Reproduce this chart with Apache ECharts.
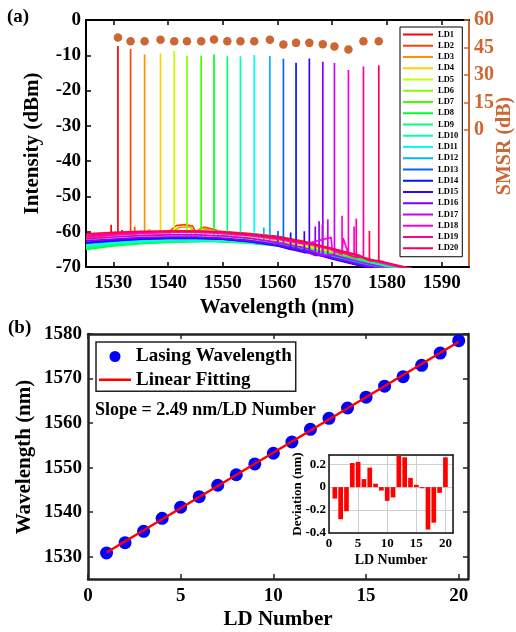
<!DOCTYPE html>
<html><head><meta charset="utf-8">
<script src="https://cdn.jsdelivr.net/npm/echarts@6/dist/echarts.min.js"></script>
<style>html,body{margin:0;padding:0;background:#fff}#c{width:516px;height:632px}</style>
</head><body><div id="c"></div>
<script>
// ---------- data ----------
const ldNames = ['LD1','LD2','LD3','LD4','LD5','LD6','LD7','LD8','LD9','LD10','LD11','LD12','LD13','LD14','LD15','LD16','LD17','LD18','LD19','LD20'];
const ldNumbers = [1,2,3,4,5,6,7,8,9,10,11,12,13,14,15,16,17,18,19,20];
const peakWl = [1530.84,1533.15,1535.71,1538.62,1541.12,1543.46,1546.05,1548.40,1550.83,1553.23,1555.75,1558.61,1561.08,1563.39,1565.82,1568.28,1570.41,1572.96,1575.71,1578.51];
const peakDbm = [-7.4,-8.2,-9.8,-9.5,-8.7,-10.1,-10.1,-9.8,-10.3,-10.3,-9.9,-10.2,-11.0,-12.1,-10.9,-11.8,-12.2,-14.2,-13.2,-12.8];
const peakBase = [-60.7,-60.7,-61.0,-61.3,-61.7,-62.2,-62.4,-62.7,-62.8,-62.8,-62.7,-63.1,-63.9,-65.0,-65.9,-66.7,-66.7,-66.4,-67.3,-68.2];
const smsrDb = [50.5,48.4,48.4,49.2,48.4,48.4,48.4,49.4,48.4,48.4,48.4,49.2,46.6,47.5,47.5,46.8,45.5,43.9,48.4,48.4];
const deviationNm = [-0.10,-0.28,-0.21,0.21,0.22,0.07,0.17,0.03,-0.03,-0.12,-0.09,0.29,0.26,0.08,0.02,-0.01,-0.37,-0.31,-0.05,0.26];
const fitLine = [[1,1530.94],[20,1578.25]];
const bgWl = [1525,1530,1535,1540,1545,1550,1555,1560,1565,1570,1575,1580,1585];
const bgDbm = [
  [-61.5,-60.8,-60.3,-60.0,-59.8,-60.0,-60.5,-61.3,-62.8,-64.8,-67.0,-69.3,-71.5],
  [-61.8,-61.0,-60.5,-60.2,-60.0,-60.2,-60.7,-61.5,-63.0,-65.0,-67.2,-69.5,-71.5],
  [-62.3,-61.5,-61.0,-60.7,-60.5,-60.7,-61.2,-62.0,-63.5,-65.5,-67.5,-69.6,-71.5],
  [-63.2,-62.2,-61.6,-61.3,-61.1,-61.3,-61.7,-62.5,-63.9,-65.7,-67.6,-69.5,-71.2],
  [-64.1,-63.0,-62.4,-62.0,-61.8,-61.9,-62.2,-62.9,-64.1,-65.8,-67.5,-69.2,-70.8],
  [-64.6,-63.5,-62.9,-62.5,-62.3,-62.4,-62.7,-63.3,-64.5,-66.0,-67.6,-69.2,-70.6],
  [-64.9,-63.8,-63.2,-62.8,-62.6,-62.7,-63.0,-63.6,-64.7,-66.2,-67.8,-69.3,-70.6],
  [-65.0,-64.0,-63.4,-63.0,-62.8,-62.9,-63.2,-63.8,-64.9,-66.4,-67.9,-69.4,-70.7],
  [-64.7,-63.8,-63.2,-62.9,-62.7,-62.9,-63.3,-64.0,-65.1,-66.7,-68.2,-69.7,-71.0],
  [-64.2,-63.4,-62.9,-62.6,-62.5,-62.7,-63.1,-63.9,-65.1,-66.8,-68.4,-70.0,-71.3],
  [-63.7,-63.0,-62.5,-62.2,-62.1,-62.3,-62.8,-63.7,-65.1,-66.9,-68.6,-70.3,-71.6],
  [-63.4,-62.7,-62.2,-61.9,-61.8,-62.1,-62.6,-63.6,-65.1,-67.0,-68.8,-70.6,-72.0],
  [-63.2,-62.5,-62.0,-61.8,-61.7,-62.0,-62.6,-63.7,-65.3,-67.3,-69.2,-71.0,-72.5],
  [-63.2,-62.6,-62.1,-61.9,-61.8,-62.1,-62.8,-63.9,-65.6,-67.6,-69.5,-71.2,-72.5],
  [-63.0,-62.4,-62.0,-61.8,-61.8,-62.1,-62.8,-64.0,-65.7,-67.7,-69.6,-71.2,-72.5],
  [-62.6,-62.1,-61.7,-61.5,-61.5,-61.8,-62.5,-63.7,-65.5,-67.4,-69.3,-71.0,-72.5],
  [-62.0,-61.5,-61.1,-60.9,-60.9,-61.2,-61.9,-63.0,-64.6,-66.5,-68.5,-70.3,-72.0],
  [-61.3,-60.8,-60.4,-60.2,-60.2,-60.5,-61.1,-62.1,-63.5,-65.3,-67.2,-69.2,-71.0],
  [-61.0,-60.5,-60.1,-59.9,-59.9,-60.2,-60.8,-61.8,-63.2,-65.0,-67.0,-69.0,-70.8],
  [-60.6,-60.2,-59.9,-59.8,-59.8,-60.1,-60.7,-61.6,-63.0,-64.8,-66.7,-68.8,-70.6]
];
const sideModes = [
  [[1529.6,-58.0],[1531.6,-59.5]], [[1533.9,-58.6]], [[1536.6,-59.2]], [[1539.3,-59.5]],
  [[1541.9,-59.0]], [[1544.2,-58.8]], [[1546.8,-59.3]], [[1549.1,-59.5]],
  [[1551.6,-60.0]], [[1554.0,-60.3]], [[1556.6,-60.4]], [[1557.5,-58.8]],
  [[1560.1,-59.8]], [[1562.4,-60.2]], [[1564.9,-59.9]], [[1566.9,-58.5],[1567.6,-57.0]],
  [[1568.2,-58.0],[1569.2,-56.5]], [[1571.8,-55.5],[1574.0,-58.5]], [[1574.4,-56.3]], [[1576.8,-59.8]]
];
const ripplePts = [
  [], [[1541.5,-58.3],[1543.0,-58.0],[1544.5,-58.4],[1546.5,-58.7],[1548.0,-59.2]],
  [[1542.0,-58.8],[1544.0,-58.6],[1546.0,-58.9]], [], [], [], [], [], [], [], [], [], [], [], [], [], [],
  [[1569.8,-61.6],[1572.0,-61.8]], [], []
];
const spectrumTicks = [1530,1540,1550,1560,1570,1580,1590];
const smsrTicks = [0,15,30,45,60];
const ldTicks = [0,5,10,15,20];
const wlTicks = [1530,1540,1550,1560,1570,1580];
const devTicks = [-0.4,-0.2,0,0.2];
const slopeText = 'Slope = 2.49 nm/LD Number';

// ---------- styles ----------
const FONT = "'Liberation Serif','Times New Roman',serif";
const ORANGE = '#cc6633';
const ldColors = ['#ff0000','#ff4400','#ff9000','#ffd200','#c8ff00','#80ff00','#3cff00','#00ff28','#00ff78','#00ffb4','#00ffff','#00b4ff','#0064ff','#0014ff','#3c00ff','#8200ff','#c800ff','#ff00dc','#ff0096','#ff0050'];
const LINE_ICON = 'path://M0,0L0.01,0L0.01,0.01Z M0,4.2L32,4.2L32,6.8L0,6.8Z M31.99,10.99L32,10.99L32,11Z';

function spectrum(i){
  const pts = bgWl.map((w,k)=>[w,bgDbm[i][k]]);
  ripplePts[i].forEach(p=>pts.push([p[0],p[1]]));
  const spikes = sideModes[i].concat([[peakWl[i],peakDbm[i]]]);
  spikes.forEach(s=>{ pts.push([s[0],peakBase[i]],[s[0],s[1]],[s[0],peakBase[i]]); });
  return pts.sort((a,b)=>a[0]-b[0]);
}

const plain = v=>String(v);
const lbl = (size,color,extra)=>Object.assign({color:color||'#000',fontSize:size,fontWeight:'bold',fontFamily:FONT,formatter:plain},extra||{});

const chart = echarts.init(document.getElementById('c'),null,{renderer:'canvas'});
const series = [];
ldNames.forEach((n,i)=>series.push({
  name:n,type:'line',xAxisIndex:0,yAxisIndex:0,data:spectrum(i),symbol:'none',showSymbol:false,
  lineStyle:{color:ldColors[i],width:1.7},itemStyle:{color:ldColors[i]},clip:true,z:2
}));
series.push({name:'SMSR',type:'scatter',xAxisIndex:0,yAxisIndex:1,data:peakWl.map((w,i)=>[w,smsrDb[i]]),
  symbolSize:8.5,itemStyle:{color:ORANGE,opacity:1},z:5});
series.push({name:'Lasing Wavelength',type:'scatter',xAxisIndex:2,yAxisIndex:2,data:ldNumbers.map((n,i)=>[n,peakWl[i]]),
  symbolSize:13,itemStyle:{color:'#0000ff',opacity:1},z:3});
series.push({name:'Linear Fitting',type:'line',xAxisIndex:2,yAxisIndex:2,data:fitLine,symbol:'none',
  lineStyle:{color:'#ff0000',width:2.5},itemStyle:{color:'#ff0000'},z:4});
series.push({name:'Deviation',type:'bar',xAxisIndex:4,yAxisIndex:4,data:ldNumbers.map((n,i)=>[n,deviationNm[i]]),
  barWidth:4.7,itemStyle:{color:'#ff0000'},clip:true,z:10});

const blackLine = (w,c)=>({show:true,onZero:false,lineStyle:{color:c||'#000',width:w}});
const inTick = (vals,c,len)=>({show:true,inside:true,length:len||5,customValues:vals,lineStyle:{color:c||'#000',width:1.5}});

const option = {
  animation:false,
  backgroundColor:'#fff',
  grid:[
    {left:86,top:20,width:383,height:247,outerBoundsMode:'none',containLabel:false},
    {left:88,top:334,width:380,height:245,outerBoundsMode:'none',containLabel:false},
    {left:329,top:455,width:124,height:78,show:false,outerBoundsMode:'none',containLabel:false}
  ],
  xAxis:[
    {gridIndex:0,type:'value',min:1525,max:1595,position:'bottom',axisLine:blackLine(2),axisTick:inTick(spectrumTicks),
      axisLabel:lbl(19,'#000',{customValues:spectrumTicks,margin:7}),splitLine:{show:false}},
    {gridIndex:0,type:'value',min:1525,max:1595,position:'top',axisLine:blackLine(2),axisTick:inTick(spectrumTicks),
      axisLabel:{show:false},splitLine:{show:false}},
    {gridIndex:1,type:'value',min:0,max:20.5,position:'bottom',axisLine:blackLine(2.5,'#222'),axisTick:inTick(ldTicks,'#222'),
      axisLabel:lbl(19,'#000',{customValues:ldTicks,margin:8}),splitLine:{show:false}},
    {gridIndex:1,type:'value',min:0,max:20.5,position:'top',axisLine:blackLine(2.5,'#222'),axisTick:inTick(ldTicks,'#222'),
      axisLabel:{show:false},splitLine:{show:false}},
    {gridIndex:2,type:'value',min:0,max:21.3,interval:5,position:'bottom',axisLine:blackLine(1.5,'#111'),axisTick:{show:false},
      axisLabel:lbl(13,'#000',{customValues:ldTicks,margin:4}),splitLine:{show:true,lineStyle:{color:'#d0d0d0',width:1}}},
    {gridIndex:2,type:'value',min:0,max:21.3,position:'top',axisLine:blackLine(1.5,'#111'),axisTick:{show:false},
      axisLabel:{show:false},splitLine:{show:false}}
  ],
  yAxis:[
    {gridIndex:0,type:'value',min:-70,max:0,interval:10,position:'left',axisLine:blackLine(2),
      axisTick:{show:true,inside:true,length:5,lineStyle:{color:'#000',width:1.5}},
      axisLabel:lbl(19,'#000',{margin:5}),splitLine:{show:false}},
    {gridIndex:0,type:'value',min:-75,max:60,interval:15,position:'right',axisLine:blackLine(2,ORANGE),
      axisTick:inTick(smsrTicks,ORANGE),
      axisLabel:lbl(20,ORANGE,{customValues:smsrTicks,margin:5,formatter:v=>v<0?'':String(v)}),splitLine:{show:false}},
    {gridIndex:1,type:'value',min:1525,max:1580,position:'left',axisLine:blackLine(2.5,'#222'),axisTick:inTick(wlTicks,'#222'),
      axisLabel:lbl(19,'#000',{customValues:wlTicks,margin:6}),splitLine:{show:false}},
    {gridIndex:1,type:'value',min:1525,max:1580,position:'right',axisLine:blackLine(2.5,'#222'),axisTick:inTick(wlTicks,'#222'),
      axisLabel:{show:false},splitLine:{show:false}},
    {gridIndex:2,type:'value',min:-0.4,max:0.28,interval:0.2,position:'left',axisLine:blackLine(1.5,'#111'),axisTick:{show:false},
      axisLabel:lbl(13,'#000',{customValues:devTicks,margin:3,formatter:v=>Math.abs(v)<1e-9?'0':v.toFixed(1)}),
      splitLine:{show:true,lineStyle:{color:'#d0d0d0',width:1}}},
    {gridIndex:2,type:'value',min:-0.4,max:0.28,position:'right',axisLine:blackLine(1.5,'#111'),axisTick:{show:false},
      axisLabel:{show:false},splitLine:{show:false}}
  ],
  legend:[
    {data:ldNames,orient:'vertical',left:400,top:27,icon:'rect',itemWidth:30,itemHeight:2,itemGap:2.25,padding:[3,4,4,3],
      borderColor:'#000',borderWidth:1,backgroundColor:'#fff',selectedMode:false,
      textStyle:{fontSize:8.5,lineHeight:8.5,fontWeight:'bold',fontFamily:FONT,color:'#000'},z:10},
    {data:[{name:'Lasing Wavelength',icon:'circle'},{name:'Linear Fitting',icon:LINE_ICON}],orient:'vertical',left:96,top:342,
      itemWidth:32,itemHeight:11,itemGap:4.3,
      padding:[5,4,2,3],borderColor:'#222',borderWidth:1.5,backgroundColor:'#fff',selectedMode:false,
      textStyle:{fontSize:19,lineHeight:18,fontWeight:'bold',fontFamily:FONT,color:'#000'},z:10}
  ],
  graphic:[
    {type:'text',x:7,y:17,style:{text:'(a)',font:'bold 19px '+FONT,fill:'#000',textVerticalAlign:'middle',verticalAlign:'middle'}},
    {type:'text',x:8,y:328,style:{text:'(b)',font:'bold 19px '+FONT,fill:'#000',textVerticalAlign:'middle',verticalAlign:'middle'}},
    {type:'text',x:33,y:143.5,rotation:Math.PI/2,style:{text:'Intensity (dBm)',font:'bold 21px '+FONT,fill:'#000',textAlign:'center',align:'center',textVerticalAlign:'middle',verticalAlign:'middle'}},
    {type:'text',x:277,y:308,style:{text:'Wavelength (nm)',font:'bold 21px '+FONT,fill:'#000',textAlign:'center',align:'center',textVerticalAlign:'middle',verticalAlign:'middle'}},
    {type:'text',x:505,y:146,rotation:Math.PI/2,style:{text:'SMSR (dB)',font:'bold 20px '+FONT,fill:ORANGE,textAlign:'center',align:'center',textVerticalAlign:'middle',verticalAlign:'middle'}},
    {type:'text',x:25,y:457,rotation:Math.PI/2,style:{text:'Wavelength (nm)',font:'bold 21px '+FONT,fill:'#000',textAlign:'center',align:'center',textVerticalAlign:'middle',verticalAlign:'middle'}},
    {type:'text',x:278,y:620,style:{text:'LD Number',font:'bold 21px '+FONT,fill:'#000',textAlign:'center',align:'center',textVerticalAlign:'middle',verticalAlign:'middle'}},
    {type:'text',x:95,y:410,style:{text:slopeText,font:'bold 18px '+FONT,fill:'#000',textVerticalAlign:'middle',verticalAlign:'middle'}},
    {type:'text',x:298,y:494,rotation:Math.PI/2,z:20,style:{text:'Deviation (nm)',font:'bold 13px '+FONT,fill:'#000',textAlign:'center',align:'center',textVerticalAlign:'middle',verticalAlign:'middle'}},
    {type:'text',x:391,y:560,z:20,style:{text:'LD Number',font:'bold 14px '+FONT,fill:'#000',textAlign:'center',align:'center',textVerticalAlign:'middle',verticalAlign:'middle'}}
  ],
  series:series
};
chart.setOption(option);
</script></body></html>
